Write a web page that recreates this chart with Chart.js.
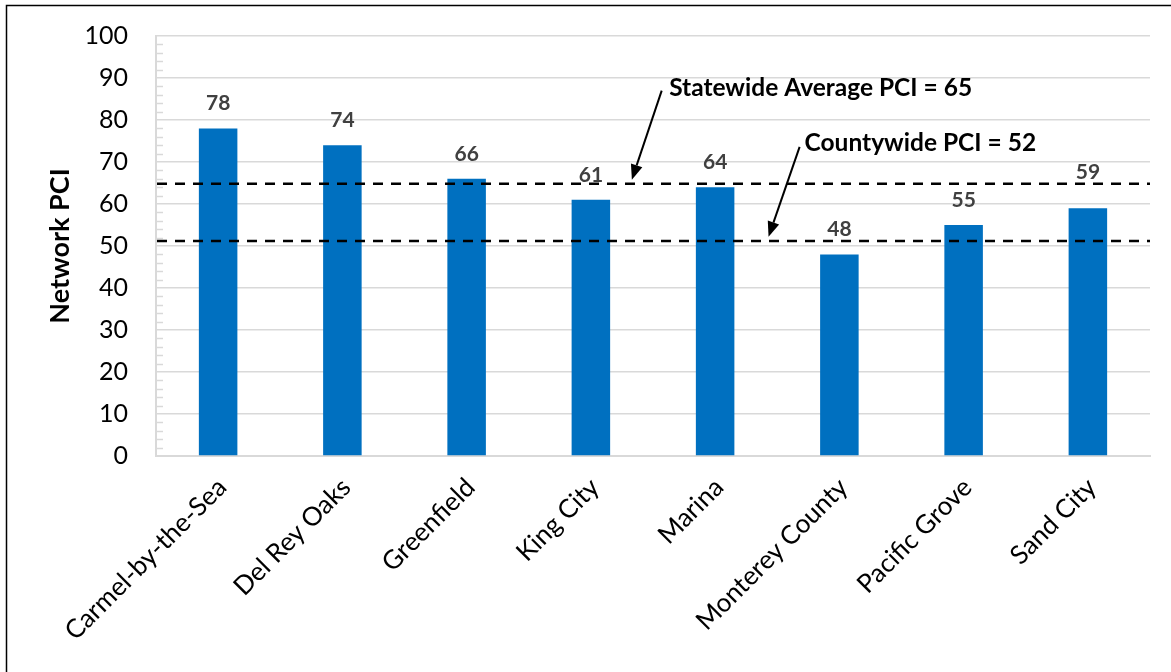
<!DOCTYPE html>
<html><head><meta charset="utf-8">
<script src="https://cdn.jsdelivr.net/npm/chart.js@4.4.1/dist/chart.umd.min.js"></script>
<style>html,body{margin:0;padding:0;background:#fff;overflow:hidden}#wrap{width:1171px;height:672px;position:relative}</style>
</head><body><div id="wrap"><canvas id="c" width="1171" height="672"></canvas></div>
<script>
// ---- data ----
const categories = ['Carmel-by-the-Sea','Del Rey Oaks','Greenfield','King City','Marina','Monterey County','Pacific Grove','Sand City'];
const pciValues = [78, 74, 66, 61, 64, 48, 55, 59];
const yTickValues = [0, 10, 20, 30, 40, 50, 60, 70, 80, 90, 100];
const referenceValues = [64.8, 51.2];
const referenceLabels = ['Statewide Average PCI = 65', 'Countywide PCI = 52'];

// ---- annotation placement (in category-index / value units) ----
const labelAt = [[3.63, 87.6], [4.72, 74.6]];
const arrowFrom = [[3.57, 87.0], [4.68, 73.6]];
const arrowTo = [[3.33, 65.8], [4.43, 52.2]];
const dataLabelLift = [0, 0, 0, 0, 0, 0, 0, 11];

const FONT = 'Lato, "Open Sans", sans-serif';

const decorPlugin = {
  id: 'decor',
  beforeDatasetsDraw(chart) {
    const ctx = chart.ctx, y = chart.scales.y, a = chart.chartArea;
    ctx.save();
    ctx.strokeStyle = '#d9d9d9';
    ctx.lineWidth = 1.5;
    for (let v = y.min; v <= y.max; v += 2) {
      if (v % 10 === 0) continue;
      const py = Math.round(y.getPixelForValue(v)) + 0.5;
      ctx.beginPath(); ctx.moveTo(a.left, py); ctx.lineTo(a.left + 7, py); ctx.stroke();
    }
    ctx.restore();
  },
  afterDatasetsDraw(chart) {
    const ctx = chart.ctx, x = chart.scales.x, y = chart.scales.y, a = chart.chartArea;
    const px = i => x.getPixelForValue(0) + i * (x.getPixelForValue(1) - x.getPixelForValue(0));
    ctx.save();
    // reference dashed lines
    ctx.strokeStyle = '#000'; ctx.lineWidth = 2.5; ctx.setLineDash([10, 8]);
    referenceValues.forEach(v => {
      const py = y.getPixelForValue(v);
      ctx.beginPath(); ctx.moveTo(a.left + 1, py); ctx.lineTo(a.right, py); ctx.stroke();
    });
    ctx.setLineDash([]);
    // data labels
    const meta = chart.getDatasetMeta(0);
    ctx.fillStyle = '#404040'; ctx.font = 'bold 21px ' + FONT;
    ctx.textAlign = 'center'; ctx.textBaseline = 'alphabetic';
    meta.data.forEach((bar, i) => { ctx.fillText(String(pciValues[i]), bar.x, bar.y - 18 - dataLabelLift[i]); });
    // arrows
    ctx.strokeStyle = '#000'; ctx.fillStyle = '#000'; ctx.lineWidth = 2;
    arrowFrom.forEach((f, k) => {
      const x1 = px(f[0]), y1 = y.getPixelForValue(f[1]);
      const x2 = px(arrowTo[k][0]), y2 = y.getPixelForValue(arrowTo[k][1]);
      const ang = Math.atan2(y2 - y1, x2 - x1), L = 15, W = 6;
      const bx = x2 - L * Math.cos(ang), by = y2 - L * Math.sin(ang);
      ctx.beginPath(); ctx.moveTo(x1, y1); ctx.lineTo(bx, by); ctx.stroke();
      ctx.beginPath(); ctx.moveTo(x2, y2);
      ctx.lineTo(bx + W * Math.sin(ang), by - W * Math.cos(ang));
      ctx.lineTo(bx - W * Math.sin(ang), by + W * Math.cos(ang));
      ctx.closePath(); ctx.fill();
    });
    // annotation text
    ctx.font = 'bold 24.5px ' + FONT; ctx.textAlign = 'left'; ctx.textBaseline = 'middle'; ctx.fillStyle = '#000';
    referenceLabels.forEach((t, k) => ctx.fillText(t, px(labelAt[k][0]), y.getPixelForValue(labelAt[k][1])));
    ctx.restore();
  },
  afterDraw(chart) {
    const ctx = chart.ctx;
    ctx.save(); ctx.strokeStyle = '#000'; ctx.lineWidth = 1.5;
    ctx.beginPath(); ctx.moveTo(6.5, 672); ctx.lineTo(6.5, 5.5); ctx.lineTo(1171, 5.5); ctx.stroke();
    ctx.restore();
  }
};

new Chart(document.getElementById('c'), {
  type: 'bar',
  data: {
    labels: categories,
    datasets: [{ data: pciValues, backgroundColor: '#0070C0', borderWidth: 0, barPercentage: 0.31, categoryPercentage: 1 }]
  },
  options: {
    responsive: false, animation: false, devicePixelRatio: 1,
    layout: { padding: { left: 40, right: 21, top: 36, bottom: 0 } },
    plugins: { legend: { display: false }, tooltip: { enabled: false } },
    scales: {
      x: {
        grid: { display: false },
        border: { display: true, color: '#d9d9d9', width: 2 },
        ticks: { color: '#000', font: { family: FONT, size: 26 }, minRotation: 45, maxRotation: 45, autoSkip: false, padding: 8, labelOffset: 4 },
        afterFit(s) { s.height = 216; s.paddingLeft = 0; s.paddingRight = 0; }
      },
      y: {
        min: 0, max: 100,
        afterBuildTicks(s) { s.ticks = yTickValues.map(v => ({ value: v })); },
        grid: { color: '#d9d9d9', lineWidth: 1.5, drawTicks: false },
        border: { display: true, color: '#d9d9d9', width: 2 },
        ticks: { color: '#000', font: { family: FONT, size: 25 }, padding: 28 },
        title: { display: true, text: 'Network PCI', color: '#000', font: { family: FONT, size: 27, weight: 'bold' } },
        afterFit(s) { s.width = 116; s.paddingTop = 0; s.paddingBottom = 0; }
      }
    }
  },
  plugins: [decorPlugin]
});
</script></body></html>
